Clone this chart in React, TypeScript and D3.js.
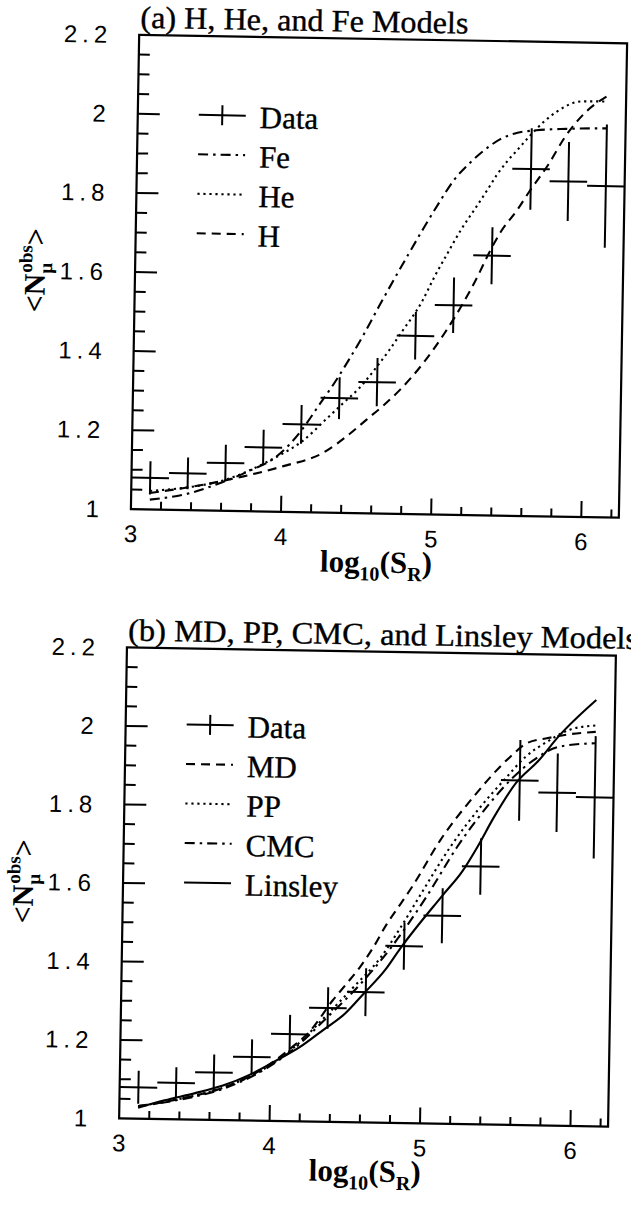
import React from 'react';
import * as d3 from 'd3';

// ---------------- data ----------------
// measured points: bin centres in log10(S_R)
const dataX = [3.125, 3.375, 3.625, 3.875, 4.125, 4.375, 4.625, 4.875, 5.125, 5.375, 5.625, 5.875, 6.125];
const dataY = [1.08, 1.093, 1.121, 1.162, 1.222, 1.29, 1.332, 1.451, 1.53, 1.657, 1.878, 1.848, 1.838];
const dataErr = [0.042, 0.04, 0.046, 0.045, 0.049, 0.053, 0.061, 0.06, 0.07, 0.072, 0.103, 0.1, 0.156];
const binHalfWidth = 0.125;

// panel (a) models
const feX = [3.125, 3.398, 3.597, 3.795, 3.944, 4.042, 4.14, 4.238, 4.335, 4.432, 4.53, 4.626, 4.723, 4.82, 4.917, 5.014, 5.112, 5.21, 5.333, 5.417, 5.531, 5.656, 5.856, 6.125];
const feY = [1.025, 1.044, 1.071, 1.104, 1.134, 1.168, 1.214, 1.27, 1.325, 1.386, 1.452, 1.522, 1.591, 1.658, 1.724, 1.787, 1.846, 1.888, 1.93, 1.952, 1.969, 1.976, 1.981, 1.984];

const heX = [3.125, 3.397, 3.596, 3.884, 3.993, 4.132, 4.289, 4.397, 4.506, 4.613, 4.701, 4.779, 4.916, 4.993, 5.08, 5.167, 5.255, 5.338, 5.401, 5.469, 5.533, 5.607, 5.705, 5.793, 5.952, 6.125];
const heY = [1.047, 1.059, 1.075, 1.122, 1.145, 1.179, 1.236, 1.276, 1.316, 1.367, 1.413, 1.458, 1.539, 1.6, 1.662, 1.722, 1.774, 1.824, 1.863, 1.898, 1.926, 1.959, 1.998, 2.025, 2.051, 2.052];

const hX = [3.125, 3.397, 3.746, 4.005, 4.273, 4.451, 4.559, 4.668, 4.776, 4.933, 5.07, 5.196, 5.283, 5.345, 5.428, 5.54, 5.613, 5.74, 5.847, 5.974, 6.125];
const hY = [1.042, 1.059, 1.088, 1.115, 1.151, 1.201, 1.237, 1.273, 1.313, 1.384, 1.46, 1.541, 1.605, 1.656, 1.716, 1.775, 1.819, 1.89, 1.96, 2.021, 2.066];

// panel (b) models
const mdX = [3.125, 3.397, 3.696, 3.944, 4.142, 4.26, 4.407, 4.495, 4.583, 4.671, 4.758, 4.846, 4.924, 5.103, 5.319, 5.56, 5.668, 5.808, 5.957, 6.125];
const mdY = [1.032, 1.052, 1.084, 1.131, 1.189, 1.231, 1.31, 1.352, 1.395, 1.447, 1.507, 1.558, 1.604, 1.722, 1.834, 1.938, 1.973, 1.987, 1.998, 2.005];

const ppX = [3.125, 3.397, 3.696, 3.944, 4.142, 4.368, 4.535, 4.722, 4.849, 4.965, 5.17, 5.365, 5.518, 5.66, 5.808, 5.957, 6.125];
const ppY = [1.032, 1.052, 1.084, 1.129, 1.184, 1.272, 1.341, 1.422, 1.498, 1.574, 1.705, 1.808, 1.877, 1.938, 1.979, 2.01, 2.021];

const cmcX = [3.125, 3.397, 3.696, 3.944, 4.142, 4.368, 4.585, 4.781, 5.02, 5.215, 5.409, 5.562, 5.71, 5.879, 6.125];
const cmcY = [1.032, 1.05, 1.081, 1.127, 1.181, 1.265, 1.351, 1.443, 1.579, 1.705, 1.809, 1.878, 1.929, 1.965, 1.976];

const linX = [3.125, 3.3, 3.497, 3.686, 3.865, 4.033, 4.192, 4.35, 4.488, 4.611, 4.753, 4.85, 5.125, 5.252, 5.35, 5.456, 5.602, 5.75, 5.877, 6.125];
const linY = [1.028, 1.048, 1.067, 1.088, 1.117, 1.153, 1.189, 1.235, 1.276, 1.328, 1.39, 1.445, 1.582, 1.643, 1.706, 1.782, 1.872, 1.93, 1.991, 2.086];

// axes
const xDomain: [number, number] = [3, 6.25];
const yDomain: [number, number] = [1, 2.2];
const xTickValues = [3, 4, 5, 6];
const xTickLabels = ['3', '4', '5', '6'];
const yTickValues = [1, 1.2, 1.4, 1.6, 1.8, 2, 2.2];
const yTickLabels = ['1', '1.2', '1.4', '1.6', '1.8', '2', '2.2'];

const titleA = '(a) H, He, and Fe Models';
const titleB = '(b) MD, PP, CMC, and Linsley Models';

// ---------------- styling ----------------
type LineStyle = 'dashed' | 'dotted' | 'dashdot' | 'solid';
const DASH: Record<LineStyle, string | undefined> = {
  dashed: '9 6',
  dotted: '2.2 3.8',
  dashdot: '10 5 2.5 5',
  solid: undefined,
};

interface Series { label: string; style: LineStyle; xs: number[]; ys: number[]; }

const seriesA: Series[] = [
  { label: 'Fe', style: 'dashdot', xs: feX, ys: feY },
  { label: 'He', style: 'dotted', xs: heX, ys: heY },
  { label: 'H', style: 'dashed', xs: hX, ys: hY },
];
const seriesB: Series[] = [
  { label: 'MD', style: 'dashed', xs: mdX, ys: mdY },
  { label: 'PP', style: 'dotted', xs: ppX, ys: ppY },
  { label: 'CMC', style: 'dashdot', xs: cmcX, ys: cmcY },
  { label: 'Linsley', style: 'solid', xs: linX, ys: linY },
];

const SERIF = '"Liberation Serif", "Times New Roman", serif';
const SANS = '"Liberation Sans", Arial, sans-serif';

interface PanelProps {
  L: number; T: number; R: number; B: number;
  angle: number;
  title: string; titleLen: number;
  legendTop: number;
  series: Series[];
}

function Panel({ L, T, R, B, angle, title, titleLen, legendTop, series }: PanelProps) {
  const x = d3.scaleLinear().domain(xDomain).range([L, R]);
  const y = d3.scaleLinear().domain(yDomain).range([B, T]);
  const cx = (L + R) / 2;
  const cy = (T + B) / 2;
  const line = d3.line<[number, number]>()
    .x((d) => x(d[0]))
    .y((d) => y(d[1]))
    .curve(d3.curveMonotoneX);

  const yMinor = d3.range(1.05, 2.2 - 1e-6, 0.05);
  const xMinor = d3.range(3.2, 6.25 - 1e-6, 0.2);
  const isMajorY = (v: number) => Math.abs(v * 5 - Math.round(v * 5)) < 1e-6;
  const isMajorX = (v: number) => Math.abs(v - Math.round(v)) < 1e-6;

  const rowGap = 39.5;
  const lx1 = L + 61;
  const lx2 = L + 108;
  const ltext = L + 122;

  return (
    <g transform={`rotate(${angle},${cx},${cy})`}>
      {/* title */}
      <text x={L + 1} y={T - 7} fontFamily={SERIF} fontSize={31} textLength={titleLen}
        lengthAdjust="spacingAndGlyphs" fill="#000" stroke="#000" strokeWidth={0.35}>{title}</text>

      {/* frame */}
      <rect x={L} y={T} width={R - L} height={B - T} fill="none" stroke="#000" strokeWidth={2.2} />

      {/* y ticks */}
      {yMinor.map((v, i) => (
        <line key={`yt${i}`} x1={L} x2={L + (isMajorY(v) ? 22 : 11)} y1={y(v)} y2={y(v)}
          stroke="#000" strokeWidth={2} />
      ))}
      {/* x ticks */}
      {xMinor.map((v, i) => (
        <line key={`xt${i}`} x1={x(v)} x2={x(v)} y1={B} y2={B - (isMajorX(v) ? 16 : 8)}
          stroke="#000" strokeWidth={2} />
      ))}

      {/* y tick labels */}
      {yTickValues.map((v, i) => (
        <text key={`yl${i}`} x={L - 27} y={y(v) + 8.5} textAnchor="end" fontFamily={SANS}
          fontSize={24} letterSpacing={5} fill="#000">{yTickLabels[i]}</text>
      ))}
      {/* x tick labels */}
      {xTickValues.map((v, i) => (
        <text key={`xl${i}`} x={x(v)} y={B + 33} textAnchor="middle" fontFamily={SANS}
          fontSize={24} fill="#000">{xTickLabels[i]}</text>
      ))}

      {/* x axis title */}
      <text x={cx + 2} y={B + 59} textAnchor="middle" fontFamily={SERIF} fontWeight="bold"
        fontSize={31} fill="#000">
        <tspan>log</tspan>
        <tspan fontSize={20} dy={8}>10</tspan>
        <tspan dy={-8}>(S</tspan>
        <tspan fontSize={20} dy={8}>R</tspan>
        <tspan dy={-8}>)</tspan>
      </text>

      {/* y axis title */}
      <text transform={`translate(${L - 90},${cy}) rotate(-90)`} textAnchor="middle"
        fontFamily={SERIF} fontWeight="bold" fontSize={30} fill="#000">
        <tspan>&lt;N</tspan>
        <tspan fontSize={19} dy={7}>μ</tspan>
        <tspan fontSize={19} dx={-10} dy={-20}>obs</tspan>
        <tspan dy={13}>&gt;</tspan>
      </text>

      {/* model curves */}
      {series.map((s, i) => (
        <path key={`s${i}`} d={line(s.xs.map((xv, j) => [xv, s.ys[j]] as [number, number])) || ''}
          fill="none" stroke="#000" strokeWidth={2.1} strokeDasharray={DASH[s.style]} />
      ))}

      {/* data crosses */}
      {dataX.map((dx, i) => (
        <g key={`d${i}`} stroke="#000" strokeWidth={2}>
          <line x1={x(dx - binHalfWidth)} x2={x(dx + binHalfWidth)} y1={y(dataY[i])} y2={y(dataY[i])} />
          <line x1={x(dx)} x2={x(dx)} y1={y(dataY[i] - dataErr[i])} y2={y(dataY[i] + dataErr[i])} />
        </g>
      ))}

      {/* legend */}
      <g>
        <line x1={lx1} x2={lx2} y1={T + legendTop} y2={T + legendTop} stroke="#000" strokeWidth={2} />
        <line x1={(lx1 + lx2) / 2} x2={(lx1 + lx2) / 2} y1={T + legendTop - 10} y2={T + legendTop + 10}
          stroke="#000" strokeWidth={2} />
        <text x={ltext} y={T + legendTop + 12} fontFamily={SERIF} fontSize={31} fill="#000"
          stroke="#000" strokeWidth={0.35}>Data</text>
        {series.map((s, i) => {
          const yy = T + legendTop + rowGap * (i + 1);
          return (
            <g key={`lg${i}`}>
              <line x1={lx1} x2={lx2} y1={yy} y2={yy} stroke="#000" strokeWidth={2.1}
                strokeDasharray={DASH[s.style]} />
              <text x={ltext} y={yy + 12} fontFamily={SERIF} fontSize={31} fill="#000"
                stroke="#000" strokeWidth={0.35}>{s.label}</text>
            </g>
          );
        })}
      </g>
    </g>
  );
}

export default function App() {
  return (
    <svg width={631} height={1205} viewBox="0 0 631 1205"
      style={{ position: 'absolute', left: 0, top: 0, background: '#fff' }}>
      <rect x={0} y={0} width={631} height={1205} fill="#fff" />
      <Panel L={135} T={39} R={623} B={513.5} angle={1} title={titleA} titleLen={328}
        legendTop={79} series={seriesA} />
      <Panel L={123} T={651.5} R={612} B={1122.5} angle={0.95} title={titleB} titleLen={510}
        legendTop={76} series={seriesB} />
    </svg>
  );
}
